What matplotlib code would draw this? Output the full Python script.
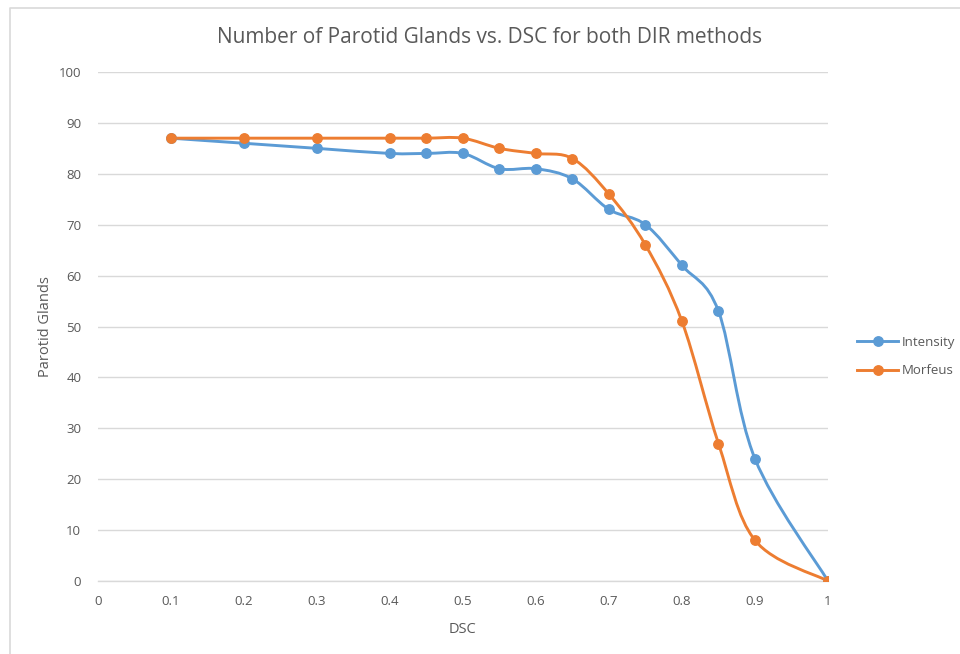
import matplotlib
matplotlib.use("Agg")
import matplotlib.pyplot as plt
from matplotlib.path import Path
from matplotlib.patches import PathPatch
from matplotlib.lines import Line2D
import numpy as np

plt.rcParams['font.family'] = ['Open Sans', 'DejaVu Sans']

dsc = [0.1, 0.2, 0.3, 0.4, 0.45, 0.5, 0.55, 0.6, 0.65, 0.7, 0.75, 0.8, 0.85, 0.9, 1.0]
intensity = [87, 86, 85, 84, 84, 84, 81, 81, 79, 73, 70, 62, 53, 24, 0]
morfeus = [87, 87, 87, 87, 87, 87, 85, 84, 83, 76, 66, 51, 27, 8, 0]

x_ticks = [0, 0.1, 0.2, 0.3, 0.4, 0.5, 0.6, 0.7, 0.8, 0.9, 1]
x_tick_labels = ["0", "0.1", "0.2", "0.3", "0.4", "0.5", "0.6", "0.7", "0.8", "0.9", "1"]
y_ticks = list(range(0, 101, 10))

BLUE = "#5B9BD5"
ORANGE = "#ED7D31"
GRID = "#D9D9D9"
TEXT = "#595959"


def smooth_path(xs, ys):
    """Catmull-Rom style cubic Bezier through the points (spreadsheet smoothing)."""
    pts = np.column_stack([xs, ys]).astype(float)
    n = len(pts)
    verts = [pts[0]]
    codes = [Path.MOVETO]
    for i in range(n - 1):
        p0 = pts[i - 1] if i > 0 else pts[i]
        p1 = pts[i]
        p2 = pts[i + 1]
        p3 = pts[i + 2] if i + 2 < n else pts[i + 1]
        c1 = p1 + (p2 - p0) / 6.0
        c2 = p2 - (p3 - p1) / 6.0
        verts += [c1, c2, p2]
        codes += [Path.CURVE4] * 3
    return Path(verts, codes)


fig = plt.figure(figsize=(9.6, 6.54), dpi=100)
ax = fig.add_axes([0.102, 0.1116, 0.7605, 0.7783])

for ys, col in [(intensity, BLUE), (morfeus, ORANGE)]:
    ax.add_patch(PathPatch(smooth_path(dsc, ys), facecolor="none", edgecolor=col,
                           lw=2.1, capstyle="round", joinstyle="round", zorder=3))
    ax.plot(dsc, ys, linestyle="none", marker="o", markersize=6.8, color=col, zorder=4)

ax.set_xlim(0, 1)
ax.set_ylim(0, 100)
ax.set_xticks(x_ticks)
ax.set_xticklabels(x_tick_labels)
ax.set_yticks(y_ticks)
ax.tick_params(axis="both", length=0, colors=TEXT, labelsize=9.5)
ax.tick_params(axis="x", pad=10)
ax.tick_params(axis="y", pad=12)
ax.grid(axis="y", color=GRID, lw=1)
ax.set_axisbelow(True)
for s in ["top", "right", "left"]:
    ax.spines[s].set_visible(False)
ax.spines["bottom"].set_color(GRID)
ax.spines["bottom"].set_linewidth(1)

ax.set_xlabel("DSC", color=TEXT, fontsize=10.5, labelpad=10)
ax.set_ylabel("Parotid Glands", color=TEXT, fontsize=10.5, labelpad=4)

fig.text(0.51, 0.943, "Number of Parotid Glands vs. DSC for both DIR methods",
         ha="center", va="center", fontsize=15, color=TEXT)

handles = [Line2D([0], [0], color=BLUE, lw=2.1, marker="o", markersize=6.8),
           Line2D([0], [0], color=ORANGE, lw=2.1, marker="o", markersize=6.8)]
fig.legend(handles, ["Intensity", "Morfeus"], loc="center left",
           bbox_to_anchor=(0.893, 0.455), frameon=False, fontsize=9.5,
           labelcolor=TEXT, handlelength=3.1, handletextpad=0.3, labelspacing=1.2,
           borderaxespad=0, borderpad=0)

# chart area border
fig.add_artist(Line2D([10 / 960, 10 / 960, 1.0], [0.0, 1 - 8 / 654, 1 - 8 / 654],
                      transform=fig.transFigure, color=GRID, lw=1.2))

fig.savefig("out.png", dpi=100)
